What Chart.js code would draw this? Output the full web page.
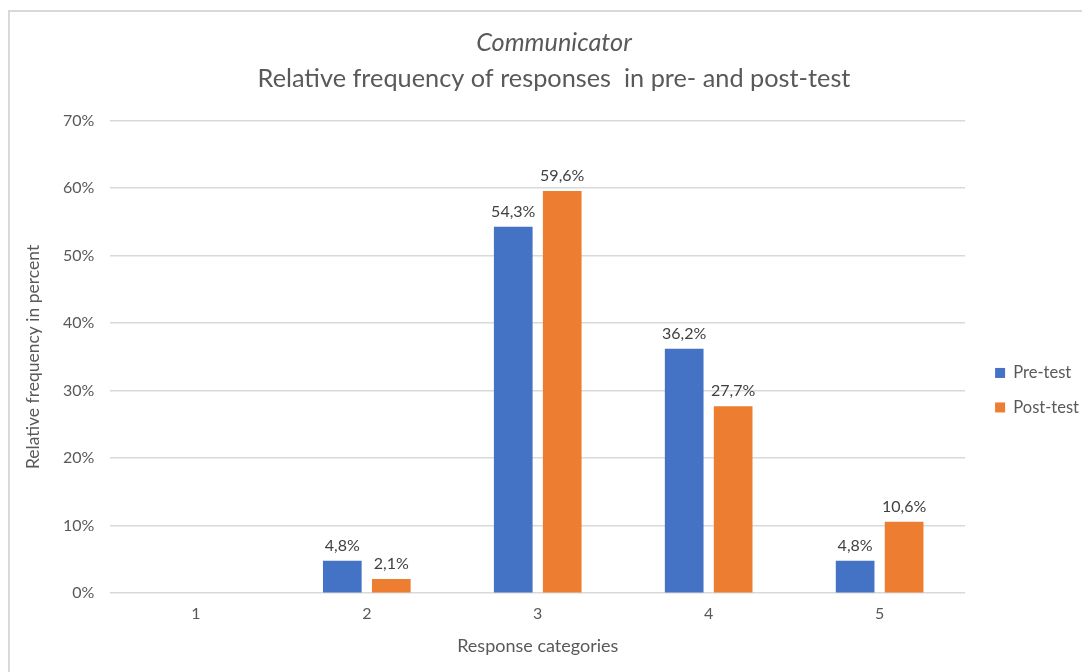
<!DOCTYPE html>
<html><head><meta charset="utf-8">
<script src="https://cdn.jsdelivr.net/npm/chart.js@4"></script>
<style>
html,body{margin:0;padding:0;background:#fff;overflow:hidden;width:1082px;height:672px}
#frame{position:absolute;left:8px;top:10px;width:1100px;height:700px;border:2px solid #d9d9d9;box-sizing:border-box}
#wrap{position:absolute;left:0;top:0;width:1100px;height:690px}
</style></head><body>
<div id="frame"></div>
<div id="wrap"><canvas id="c" width="1100" height="690"></canvas></div>
<script>
const categories = ['1', '2', '3', '4', '5'];
const preTest = [null, 4.8, 54.3, 36.2, 4.8];
const postTest = [null, 2.1, 59.6, 27.7, 10.6];
const yTicks = [0, 10, 20, 30, 40, 50, 60, 70];
const seriesNames = ['Pre-test', 'Post-test'];
const titleText = 'Communicator';
const subtitleText = 'Relative frequency of responses  in pre- and post-test';
const xTitle = 'Response categories';
const yTitle = 'Relative frequency in percent';

const FONT = 'Lato';
const TXT = '#595959';

const valueLabels = {
  id: 'valueLabels',
  afterDatasetsDraw(chart) {
    const ctx = chart.ctx;
    ctx.save();
    ctx.font = '16px ' + FONT;
    ctx.fillStyle = '#404040';
    ctx.textAlign = 'center';
    ctx.textBaseline = 'alphabetic';
    chart.data.datasets.forEach((ds, i) => {
      const meta = chart.getDatasetMeta(i);
      meta.data.forEach((bar, j) => {
        const v = ds.data[j];
        if (v == null) return;
        ctx.fillText(v.toFixed(1).replace('.', ',') + '%', bar.x, bar.y - 10);
      });
    });
    ctx.restore();
  }
};

new Chart(document.getElementById('c'), {
  type: 'bar',
  data: {
    labels: categories,
    datasets: [
      { label: seriesNames[0], data: preTest, backgroundColor: '#4472C4', borderWidth: 0,
        barPercentage: 0.79, categoryPercentage: 0.573 },
      { label: seriesNames[1], data: postTest, backgroundColor: '#ED7D31', borderWidth: 0,
        barPercentage: 0.79, categoryPercentage: 0.573 }
    ]
  },
  options: {
    responsive: false,
    animation: false,
    layout: { padding: { left: 19, right: 11, top: 0, bottom: 29 } },
    plugins: {
      title: { display: true, text: titleText, color: TXT,
        font: { family: FONT, size: 25.3, style: 'italic', weight: 'normal', lineHeight: 1.2 },
        padding: { top: 28, bottom: 5 } },
      subtitle: { display: true, text: subtitleText, color: TXT,
        font: { family: FONT, size: 25.3, weight: 'normal', lineHeight: 1.2 },
        padding: { top: 0, bottom: 27 } },
      legend: { position: 'right',
        title: { display: true, text: ' ', padding: { top: 65, bottom: 40 } },
        labels: { boxWidth: 10, boxHeight: 10, color: TXT, padding: 18,
          font: { family: FONT, size: 16.5 } } },
      tooltip: { enabled: false }
    },
    scales: {
      x: {
        grid: { display: false },
        border: { display: false },
        ticks: { color: TXT, padding: 3, font: { family: FONT, size: 16 } },
        title: { display: true, text: xTitle, color: TXT, padding: { top: 9 },
          font: { family: FONT, size: 18 } }
      },
      y: {
        min: 0, max: 70,
        afterBuildTicks: s => { s.ticks = yTicks.map(v => ({ value: v })); },
        grid: { color: '#d9d9d9', lineWidth: 1.5, drawTicks: false },
        border: { display: false },
        ticks: { color: TXT, padding: 16, font: { family: FONT, size: 16 },
          callback: v => v + '%' },
        title: { display: true, text: yTitle, color: TXT, padding: { bottom: 3 },
          font: { family: FONT, size: 17.5 } }
      },
      gap: {
        type: 'linear', position: 'right', display: true,
        grid: { display: false }, border: { display: false },
        ticks: { display: false },
        afterFit: s => { s.width = 12; }
      }
    }
  },
  plugins: [valueLabels]
});
</script>
</body></html>
